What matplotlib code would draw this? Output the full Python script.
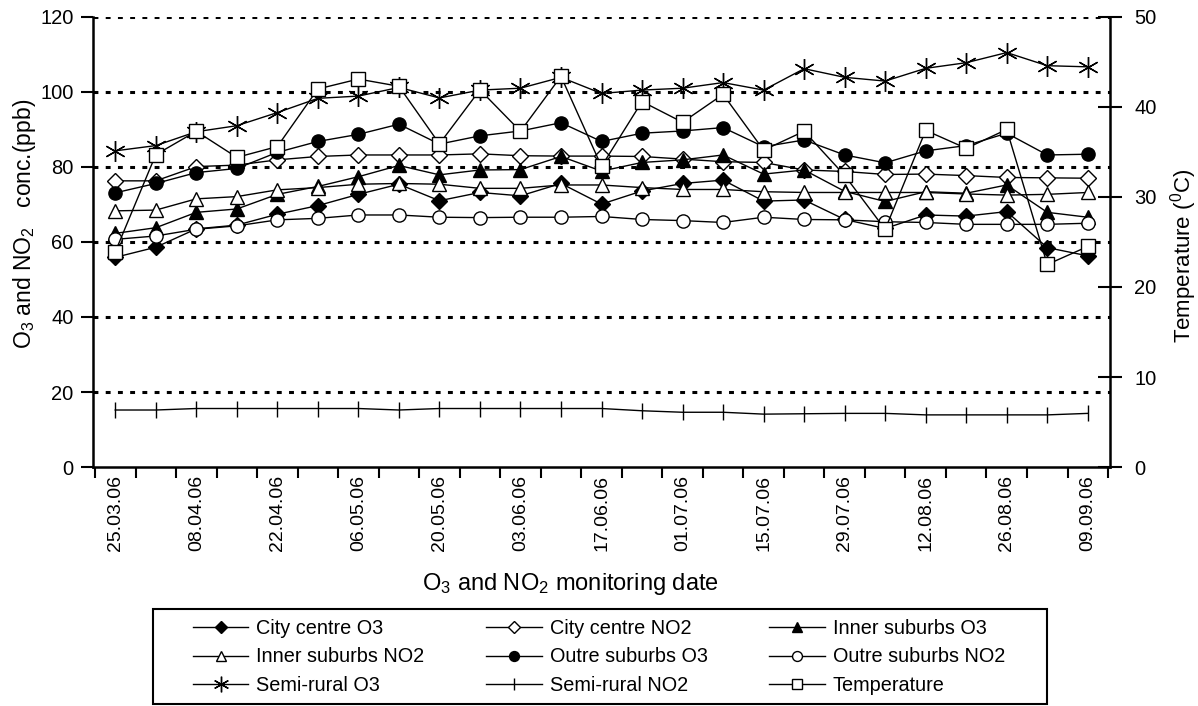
import numpy as np
import matplotlib
matplotlib.use("Agg")
import matplotlib.pyplot as plt
from matplotlib import font_manager
from matplotlib.patches import Rectangle

installed = {f.name for f in font_manager.fontManager.ttflist}
family = 'Liberation Sans Narrow' if 'Liberation Sans Narrow' in installed else 'Liberation Sans'
plt.rcParams['font.family'] = [family, 'DejaVu Sans']
plt.rcParams['mathtext.fontset'] = 'custom'
plt.rcParams['mathtext.rm'] = family
plt.rcParams['mathtext.default'] = 'regular'

dates = ['25.03.06', '01.04.06', '08.04.06', '15.04.06', '22.04.06', '29.04.06',
         '06.05.06', '13.05.06', '20.05.06', '27.05.06', '03.06.06', '10.06.06',
         '17.06.06', '24.06.06', '01.07.06', '08.07.06', '15.07.06', '22.07.06',
         '29.07.06', '05.08.06', '12.08.06', '19.08.06', '26.08.06', '02.09.06',
         '09.09.06']

city_o3 = [55.9, 58.6, 63.5, 64.5, 67.4, 69.7, 72.7, 75.4, 71.0, 73.2, 72.3, 75.6, 70.1,
           73.6, 75.6, 76.5, 70.9, 71.2, 66.0, 63.6, 67.2, 66.9, 68.1, 58.5, 56.3]
city_no2 = [76.3, 76.3, 80.1, 80.5, 81.9, 82.8, 83.2, 83.2, 83.2, 83.5, 83.0, 82.9, 82.9,
            82.8, 82.1, 81.4, 81.2, 79.2, 78.8, 78.0, 78.1, 77.7, 77.2, 77.1, 77.0]
inner_o3 = [62.3, 63.8, 67.9, 68.8, 72.7, 74.8, 77.4, 80.4, 77.9, 79.2, 79.3, 82.8, 78.9,
            81.2, 81.9, 83.2, 78.1, 79.2, 73.5, 70.8, 73.4, 73.0, 75.2, 67.9, 66.6]
inner_no2 = [68.3, 68.5, 71.5, 72.1, 73.9, 74.5, 75.4, 75.6, 75.4, 74.3, 74.3, 75.2, 75.2,
             74.5, 74.0, 74.0, 73.4, 73.2, 73.2, 73.2, 73.2, 72.8, 72.5, 72.7, 73.2]
outer_o3 = [73.1, 75.6, 78.5, 79.6, 83.9, 86.8, 88.7, 91.4, 86.1, 88.3, 89.6, 91.8, 86.8,
            89.0, 89.6, 90.5, 85.4, 87.2, 83.2, 81.1, 84.3, 85.7, 89.0, 83.2, 83.4]
outer_no2 = [60.7, 61.6, 63.4, 64.3, 65.9, 66.3, 67.2, 67.2, 66.6, 66.5, 66.6, 66.6, 66.8,
             66.0, 65.7, 65.2, 66.6, 66.0, 65.9, 65.4, 65.2, 64.7, 64.7, 64.7, 65.0]
rural_o3 = [84.3, 85.7, 89.4, 91.0, 94.5, 98.3, 98.9, 101.2, 98.4, 100.5, 101.0, 103.9, 99.6,
            100.5, 101.0, 102.5, 100.5, 106.2, 103.9, 102.9, 106.3, 107.8, 110.5, 107.0, 106.7]
rural_no2 = [15.2, 15.2, 15.6, 15.6, 15.6, 15.6, 15.6, 15.2, 15.6, 15.6, 15.6, 15.6, 15.6,
             15.0, 14.6, 14.6, 14.1, 14.2, 14.3, 14.3, 13.9, 13.9, 13.9, 13.9, 14.3]
temperature = [23.9, 34.7, 37.3, 34.4, 35.6, 42.0, 43.1, 42.3, 35.9, 41.9, 37.3, 43.4, 33.4,
               40.6, 38.3, 41.4, 35.2, 37.3, 32.4, 26.4, 37.4, 35.4, 37.5, 22.5, 24.5]

x = np.arange(len(dates))

fig = plt.figure(figsize=(11.98, 7.06), dpi=100)
ax = fig.add_axes([0.0776, 0.3385, 0.849, 0.6375])
ax2 = ax.twinx()

# dashed horizontal grid
for level in [20, 40, 60, 80, 100, 120]:
    ax.axhline(level, color='black', lw=2.2, dashes=(1.6, 2.4), zorder=1)

common = dict(color='black', lw=1.0, markeredgecolor='black', markeredgewidth=1.0)
h = []
h += ax.plot(x, city_o3, marker='D', ms=8.5, mfc='black', label='City centre O3', **common)
h += ax.plot(x, city_no2, marker='D', ms=8.5, mfc='white', label='City centre NO2', **common)
h += ax.plot(x, inner_o3, marker='^', ms=10.5, mfc='black', label='Inner suburbs O3', **common)
h += ax.plot(x, inner_no2, marker='^', ms=10.5, mfc='white', label='Inner suburbs NO2', **common)
h += ax.plot(x, outer_o3, marker='o', ms=9.5, mfc='black', label='Outre suburbs O3', **common)
h += ax.plot(x, outer_no2, marker='o', ms=9.5, mfc='white', label='Outre suburbs NO2', **common)
h += ax.plot(x, rural_o3, marker=(6, 2, 0), ms=15, mfc='black', label='Semi-rural O3', **common)
h += ax.plot(x, rural_no2, marker='|', ms=11, mfc='black', label='Semi-rural NO2', **common)
h += ax2.plot(x, temperature, marker='s', ms=9.5, mfc='white', label='Temperature', **common)

ax.set_xlim(-0.55, 24.55)
ax.set_ylim(0, 120)
ax2.set_ylim(0, 50)

ax.set_xticks(x[::2])
ax.set_xticklabels(dates[::2], rotation=90, fontsize=14)
ax.set_xticks(np.arange(-0.5, 25, 1), minor=True)
ax.tick_params(axis='x', which='major', length=0, pad=6)
ax.tick_params(axis='x', which='minor', length=8, width=1.5, direction='out')
ax.set_yticks(np.arange(0, 121, 20))
ax.tick_params(axis='y', length=9, width=1.5, direction='out', labelsize=14.5, pad=5)
ax2.set_yticks(np.arange(0, 51, 10))
ax2.tick_params(axis='y', length=17, width=1.5, direction='inout', labelsize=14.5, pad=9)

for a in (ax, ax2):
    a.spines['top'].set_visible(False)
    for s in ['left', 'right', 'bottom']:
        a.spines[s].set_linewidth(1.8)
ax.spines['right'].set_visible(False)
ax2.spines['left'].set_visible(False)
ax2.spines['bottom'].set_visible(False)

ax.set_ylabel('O$_3$ and NO$_2$   conc.(ppb)', fontsize=16.5)
ax.yaxis.set_label_coords(-0.054, 0.54)
ax2.set_ylabel('Temperature ($^0$C)', fontsize=16)
ax2.yaxis.set_label_coords(1.057, 0.47)
ax.set_xlabel('O$_3$ and NO$_2$ monitoring date', fontsize=17)
ax.xaxis.set_label_coords(0.469, -0.232)

# row-major order like the original legend, box drawn separately for its wide margins
order = [0, 3, 6, 1, 4, 7, 2, 5, 8]
leg = fig.legend(handles=[h[i] for i in order], loc='lower left',
                 bbox_to_anchor=(0.161, 0.015), ncol=3,
                 fontsize=14.3, frameon=False,
                 handlelength=2.8, columnspacing=3.1, labelspacing=0.5,
                 borderpad=0, handletextpad=0.4, borderaxespad=0)
for lh in leg.legend_handles:
    lh.set_markersize(lh.get_markersize() * 0.75)
fig.patches.append(Rectangle((153 / 1198, 0.003), (1047 - 153) / 1198, (706 - 609) / 706 - 0.003,
                             transform=fig.transFigure, fill=False, lw=1.5, edgecolor='black'))

fig.savefig('out.png', dpi=100)
